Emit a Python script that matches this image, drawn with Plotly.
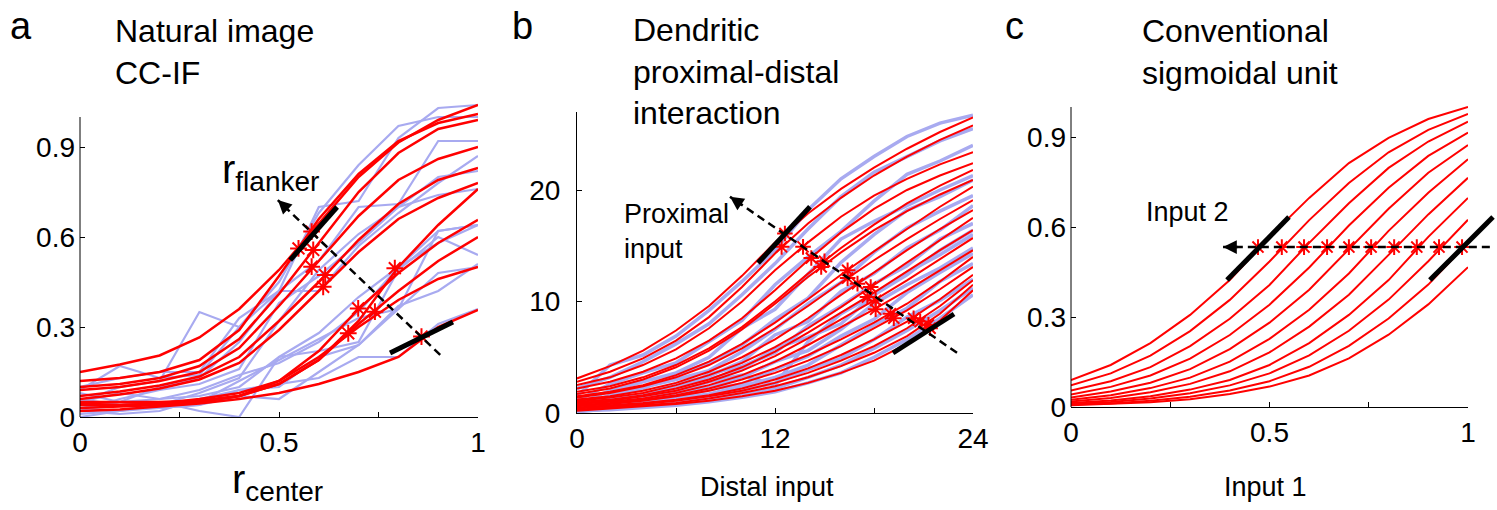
import plotly.graph_objects as go

W, H = 1497, 510
FONT = "Liberation Sans, Arial, Helvetica, sans-serif"
RED = "#ff0000"
BLUE = "rgb(168,170,240)"

# ---------------- Panel a : natural image CC-IF ----------------
a_x = [0.0, 0.1, 0.2, 0.3, 0.4, 0.5, 0.6, 0.7, 0.8, 0.9, 1.0]
a_red = [
    [0.15, 0.175, 0.205, 0.265, 0.36, 0.49, 0.645, 0.80, 0.915, 0.99, 1.04],
    [0.12, 0.13, 0.15, 0.19, 0.29, 0.47, 0.66, 0.81, 0.92, 0.98, 1.01],
    [0.10, 0.11, 0.13, 0.17, 0.26, 0.41, 0.58, 0.75, 0.88, 0.96, 0.99],
    [0.09, 0.10, 0.12, 0.15, 0.23, 0.37, 0.52, 0.67, 0.79, 0.86, 0.90],
    [0.07, 0.085, 0.105, 0.135, 0.20, 0.32, 0.45, 0.59, 0.71, 0.79, 0.83],
    [0.06, 0.075, 0.095, 0.125, 0.18, 0.29, 0.42, 0.55, 0.66, 0.73, 0.78],
    [0.05, 0.05, 0.05, 0.055, 0.07, 0.11, 0.19, 0.32, 0.50, 0.64, 0.76],
    [0.04, 0.04, 0.045, 0.05, 0.07, 0.12, 0.22, 0.36, 0.48, 0.58, 0.657],
    [0.03, 0.035, 0.04, 0.05, 0.07, 0.11, 0.19, 0.31, 0.42, 0.52, 0.60],
    [0.045, 0.04, 0.045, 0.06, 0.08, 0.12, 0.20, 0.30, 0.39, 0.46, 0.50],
    [0.02, 0.025, 0.035, 0.045, 0.06, 0.08, 0.11, 0.15, 0.20, 0.30, 0.357],
]
a_blue = [
    [0.09, 0.17, 0.13, 0.14, 0.30, 0.42, 0.70, 0.72, 0.93, 1.03, 1.04],
    [0.05, 0.10, 0.12, 0.35, 0.30, 0.45, 0.68, 0.84, 0.97, 1.00, 1.00],
    [0.10, 0.13, 0.15, 0.15, 0.33, 0.42, 0.52, 0.70, 0.71, 0.92, 0.92],
    [0.04, 0.05, 0.10, 0.13, 0.25, 0.42, 0.42, 0.57, 0.68, 0.78, 0.87],
    [0.02, 0.06, 0.09, 0.11, 0.16, 0.38, 0.47, 0.58, 0.70, 0.80, 0.82],
    [0.03, 0.02, 0.04, 0.08, 0.13, 0.32, 0.49, 0.61, 0.70, 0.74, 0.76],
    [0.06, 0.04, 0.03, 0.05, 0.12, 0.19, 0.26, 0.33, 0.36, 0.62, 0.64],
    [0.01, 0.02, 0.05, 0.02, 0.00, 0.20, 0.22, 0.25, 0.49, 0.60, 0.54],
    [0.03, 0.05, 0.03, 0.04, 0.07, 0.06, 0.15, 0.24, 0.37, 0.42, 0.51],
    [0.02, 0.01, 0.02, 0.06, 0.09, 0.10, 0.20, 0.24, 0.36, 0.48, 0.50],
    [0.00, 0.02, 0.03, 0.04, 0.09, 0.11, 0.13, 0.20, 0.20, 0.31, 0.36],
    [0.05, 0.08, 0.06, 0.09, 0.14, 0.18, 0.25, 0.35, 0.50, 0.62, 0.64],
    [0.08, 0.05, 0.06, 0.07, 0.10, 0.20, 0.28, 0.40, 0.50, 0.58, 0.64],
]
a_star_x = [0.582, 0.549, 0.586, 0.582, 0.616, 0.611, 0.791, 0.699, 0.741, 0.674, 0.858]
a_star_y = [0.618, 0.562, 0.557, 0.501, 0.473, 0.434, 0.496, 0.362, 0.351, 0.279, 0.268]
a_bars = [[(0.528, 0.523), (0.646, 0.700)], [(0.779, 0.213), (0.937, 0.317)]]
a_arrow = [(0.905, 0.207), (0.497, 0.723)]   # tail, head

# ---------------- Panel b : dendritic interaction ----------------
b_x = [0, 2, 4, 6, 8, 10, 12, 14, 16, 18, 20, 22, 24]
b_red = [
    [3.1, 4.2, 5.6, 7.4, 9.6, 12.3, 15.3, 17.9, 20.1, 22.0, 23.7, 25.2, 26.5],
    [2.8, 3.7, 4.9, 6.5, 8.6, 11.3, 14.3, 17.0, 19.3, 21.3, 23.0, 24.5, 25.8],
    [2.5, 3.2, 4.3, 5.7, 7.6, 10.0, 12.8, 15.3, 17.6, 19.5, 21.0, 22.3, 23.4],
    [2.2, 2.8, 3.7, 4.9, 6.5, 8.5, 11.0, 13.7, 16.2, 18.3, 20.0, 21.3, 22.4],
    [1.9, 2.4, 3.2, 4.3, 5.8, 7.7, 10.0, 12.5, 14.8, 16.9, 18.8, 20.4, 21.8],
    [1.7, 2.2, 3.0, 4.1, 5.6, 7.5, 9.8, 12.2, 14.4, 16.4, 18.1, 19.6, 20.9],
    [1.5, 1.9, 2.5, 3.4, 4.6, 6.2, 8.1, 10.2, 12.4, 14.5, 16.5, 18.5, 20.3],
    [1.4, 1.8, 2.4, 3.2, 4.3, 5.8, 7.6, 9.6, 11.7, 13.7, 15.6, 17.4, 19.1],
    [1.2, 1.5, 2.0, 2.7, 3.7, 5.0, 6.6, 8.5, 10.6, 12.6, 14.6, 16.5, 18.2],
    [1.1, 1.4, 1.8, 2.5, 3.4, 4.5, 5.9, 7.6, 9.5, 11.5, 13.5, 15.5, 17.5],
    [1.0, 1.2, 1.6, 2.2, 3.0, 4.1, 5.5, 7.2, 9.0, 10.8, 12.7, 14.6, 16.4],
    [0.9, 1.1, 1.5, 2.0, 2.8, 3.8, 5.1, 6.7, 8.4, 10.1, 11.9, 13.8, 15.7],
    [0.8, 1.0, 1.3, 1.8, 2.5, 3.4, 4.6, 6.1, 7.7, 9.3, 11.0, 12.8, 14.6],
    [0.7, 0.9, 1.2, 1.6, 2.2, 3.0, 4.0, 5.2, 6.6, 8.1, 9.8, 11.8, 14.0],
    [0.6, 0.8, 1.1, 1.5, 2.0, 2.7, 3.6, 4.7, 6.0, 7.6, 9.2, 11.1, 13.1],
    [0.5, 0.7, 0.9, 1.2, 1.6, 2.2, 3.0, 4.0, 5.2, 6.6, 8.2, 10.2, 12.4],
    [0.4, 0.6, 0.8, 1.1, 1.5, 2.0, 2.7, 3.6, 4.7, 6.0, 7.6, 9.6, 11.9],
    [0.3, 0.5, 0.7, 0.9, 1.3, 1.8, 2.4, 3.2, 4.2, 5.4, 6.9, 8.9, 11.5],
    [0.2, 0.4, 0.6, 0.8, 1.1, 1.5, 2.0, 2.7, 3.6, 4.7, 6.2, 8.3, 11.0],
]
b_blue = [
    [1.5, 4.3, 5.2, 6.9, 9.2, 11.8, 14.6, 18.2, 21.0, 23.0, 24.8, 26.0, 26.7],
    [2.2, 3.2, 4.6, 6.2, 8.0, 10.6, 13.4, 16.5, 19.4, 21.6, 23.0, 24.4, 25.5],
    [1.1, 2.6, 3.6, 4.5, 6.4, 8.3, 11.5, 14.0, 16.3, 19.0, 21.4, 22.6, 24.0],
    [0.8, 2.0, 2.8, 3.6, 5.0, 7.6, 9.3, 12.4, 15.6, 17.2, 18.6, 20.0, 21.3],
    [0.6, 1.6, 2.2, 3.4, 4.5, 6.1, 8.4, 10.3, 13.5, 16.0, 18.2, 19.4, 20.9],
    [0.9, 1.3, 2.3, 3.0, 3.8, 5.5, 7.5, 9.8, 11.7, 14.4, 16.6, 18.1, 19.5],
    [0.5, 1.0, 1.7, 2.6, 3.3, 4.6, 7.0, 8.2, 10.9, 12.5, 14.8, 16.4, 18.6],
    [0.3, 0.9, 1.4, 2.0, 3.5, 4.2, 5.4, 7.8, 9.6, 11.6, 13.2, 15.6, 17.0],
    [0.7, 1.1, 1.5, 1.9, 2.8, 3.4, 2.5, 6.4, 8.9, 10.6, 12.6, 14.2, 16.0],
    [0.4, 0.8, 1.2, 1.8, 2.4, 3.2, 4.6, 5.6, 7.5, 9.8, 11.5, 13.0, 14.8],
    [0.2, 0.7, 1.0, 1.4, 2.1, 2.6, 3.9, 5.1, 6.9, 8.4, 10.8, 12.6, 14.3],
    [0.6, 0.7, 0.9, 1.3, 1.7, 2.4, 3.2, 4.3, 6.1, 7.9, 9.4, 11.8, 13.4],
    [0.3, 0.5, 0.8, 1.0, 1.5, 2.0, 2.7, 3.9, 4.9, 6.6, 8.6, 10.1, 12.0],
    [0.1, 0.4, 0.6, 0.8, 1.2, 1.7, 2.2, 3.2, 4.3, 5.8, 7.4, 9.2, 11.2],
    [0.2, 0.3, 0.5, 0.7, 1.0, 1.4, 1.9, 2.7, 3.6, 5.0, 6.6, 8.5, 10.6],
    [0.5, 1.2, 1.6, 2.4, 3.0, 3.9, 5.8, 6.8, 8.0, 10.6, 12.4, 14.6, 16.4],
]
b_star_x = [12.6, 12.4, 13.7, 14.2, 15.0, 14.8, 16.4, 16.4, 17.0, 17.8, 17.6, 18.1, 18.1, 19.0, 19.2, 20.4, 20.8, 21.3, 21.4]
b_star_y = [16.1, 14.9, 14.9, 13.9, 13.6, 13.1, 12.8, 12.1, 11.6, 11.3, 10.4, 10.1, 9.3, 8.9, 8.5, 8.5, 8.2, 7.9, 7.6]
b_bars = [[(10.97, 13.45), (14.12, 18.5)], [(19.15, 5.38), (22.85, 8.88)]]
b_arrow = [(23.03, 5.4), (9.27, 19.4)]

# ---------------- Panel c : conventional sigmoidal unit ----------------
c_x = [0.0, 0.1, 0.2, 0.3, 0.4, 0.5, 0.6, 0.7, 0.8, 0.9, 1.0]
c_red = [
    [0.090, 0.140, 0.213, 0.307, 0.423, 0.567, 0.697, 0.813, 0.897, 0.960, 1.000],
    [0.072, 0.112, 0.171, 0.253, 0.357, 0.485, 0.623, 0.747, 0.849, 0.924, 0.977],
    [0.055, 0.086, 0.133, 0.203, 0.294, 0.407, 0.547, 0.679, 0.797, 0.885, 0.951],
    [0.042, 0.067, 0.105, 0.161, 0.240, 0.341, 0.465, 0.605, 0.731, 0.837, 0.915],
    [0.032, 0.052, 0.081, 0.126, 0.193, 0.281, 0.391, 0.527, 0.661, 0.781, 0.873],
    [0.024, 0.039, 0.063, 0.098, 0.151, 0.227, 0.324, 0.445, 0.587, 0.714, 0.826],
    [0.018, 0.030, 0.049, 0.077, 0.119, 0.182, 0.268, 0.374, 0.507, 0.642, 0.764],
    [0.013, 0.022, 0.036, 0.058, 0.090, 0.140, 0.213, 0.307, 0.423, 0.567, 0.697],
    [0.010, 0.017, 0.028, 0.046, 0.072, 0.112, 0.172, 0.254, 0.358, 0.486, 0.624],
    [0.008, 0.012, 0.021, 0.034, 0.055, 0.086, 0.134, 0.204, 0.295, 0.408, 0.548],
    [0.006, 0.010, 0.016, 0.026, 0.043, 0.068, 0.105, 0.162, 0.241, 0.342, 0.466],
]
c_star_x = [0.471, 0.531, 0.587, 0.645, 0.700, 0.756, 0.814, 0.871, 0.927, 0.985]
c_star_y = [0.533] * 10
c_bars = [[(0.393, 0.423), (0.549, 0.633)], [(0.904, 0.423), (1.063, 0.633)]]
c_arrow = [(1.055, 0.533), (0.383, 0.533)]

# ---------------- layout geometry ----------------
def px_dom(x0, x1):
    return [x0 / W, x1 / W]

def py_dom(ybot, ytop):
    return [1 - ybot / H, 1 - ytop / H]

RANGES = {
    "a": ([0, 1], [0, 1.06]),
    "b": ([0, 24], [0, 27]),
    "c": ([0, 1], [0, 1.01]),
}
AX = {"a": ("x", "y"), "b": ("x2", "y2"), "c": ("x3", "y3")}

fig = go.Figure()

def add_lines(panel, xs, rows, color, width):
    xa, ya = AX[panel]
    for row in rows:
        fig.add_trace(go.Scatter(x=xs, y=row, mode="lines", xaxis=xa, yaxis=ya,
                                 line=dict(color=color, width=width),
                                 hoverinfo="skip", showlegend=False))

def add_stars(panel, xs, ys, size):
    xa, ya = AX[panel]
    fig.add_trace(go.Scatter(x=xs, y=ys, mode="markers", xaxis=xa, yaxis=ya,
                             marker=dict(symbol="asterisk-open", size=size, color=RED,
                                         line=dict(color=RED, width=2)),
                             cliponaxis=False, hoverinfo="skip", showlegend=False))

def frac(panel, x, y):
    (rx, ry) = RANGES[panel]
    return (x - rx[0]) / (rx[1] - rx[0]), (y - ry[0]) / (ry[1] - ry[0])

def add_seg(panel, p0, p1, width, dash="solid"):
    xa, ya = AX[panel]
    f0 = frac(panel, *p0)
    f1 = frac(panel, *p1)
    fig.add_shape(type="line", xref=xa + " domain", yref=ya + " domain",
                  x0=f0[0], y0=f0[1], x1=f1[0], y1=f1[1], layer="above",
                  line=dict(color="black", width=width, dash=dash))

def add_arrow(panel, tail, head):
    add_seg(panel, tail, head, 2.5, "8px,5px")
    xa, ya = AX[panel]
    t = 0.06
    sx = head[0] + t * (tail[0] - head[0])
    sy = head[1] + t * (tail[1] - head[1])
    fig.add_annotation(x=head[0], y=head[1], ax=sx, ay=sy, xref=xa, yref=ya,
                       axref=xa, ayref=ya, text="", showarrow=True,
                       arrowhead=2, arrowsize=1.1, arrowwidth=2.5, arrowcolor="black")

# panel a
add_lines("a", a_x, a_blue, BLUE, 2.2)
add_lines("a", a_x, a_red, RED, 2.5)
add_stars("a", a_star_x, a_star_y, 14)
# panel b
add_lines("b", b_x, b_blue, BLUE, 3.5)
add_lines("b", b_x, b_red, RED, 2)
add_stars("b", b_star_x, b_star_y, 13)
# panel c
add_lines("c", c_x, c_red, RED, 2)

for bar in a_bars:
    add_seg("a", bar[0], bar[1], 5)
for bar in b_bars:
    add_seg("b", bar[0], bar[1], 5)
for bar in c_bars:
    add_seg("c", bar[0], bar[1], 5)
add_arrow("a", *a_arrow)
add_arrow("b", *b_arrow)
add_arrow("c", *c_arrow)
add_stars("c", c_star_x, c_star_y, 13)

for p in ("a", "c"):
    xa, ya = AX[p]
    fig.add_shape(type="line", xref=xa + " domain", yref=ya + " domain",
                  x0=0, x1=0, y0=0, y1=frac(p, 0, 1.0)[1],
                  line=dict(color="black", width=1))

tickfont = dict(family=FONT, size=28, color="black")
common = dict(showgrid=False, zeroline=False, ticks="inside", ticklen=5,
              tickwidth=1, tickcolor="black", linecolor="black", linewidth=1,
              tickfont=tickfont, fixedrange=True, automargin=False)

a_xticks = [0, 0.25, 0.5, 0.75, 1]
a_xtext = ["0", "", "0.5", "", "1"]
b_xticks = [0, 6, 12, 18, 24]
b_xtext = ["0", "", "12", "", "24"]
y01_ticks = [0, 0.3, 0.6, 0.9]
y01_text = ["0", "0.3", "0.6", "0.9"]
b_yticks = [0, 10, 20]

fig.update_layout(
    width=W, height=H, margin=dict(l=0, r=0, t=0, b=0, pad=0, autoexpand=False),
    paper_bgcolor="white", plot_bgcolor="white", showlegend=False,
    xaxis=dict(common, domain=px_dom(80, 478), range=RANGES["a"][0], anchor="y",
               showline=True, tickvals=a_xticks, ticktext=a_xtext, ticklabelstandoff=0),
    yaxis=dict(common, domain=py_dom(417, 417 - 318), range=RANGES["a"][1], anchor="x",
               showline=False, tickvals=y01_ticks, ticktext=y01_text, ticklabelstandoff=4),
    xaxis2=dict(common, domain=px_dom(577, 973), range=RANGES["b"][0], anchor="y2",
                showline=True, tickvals=b_xticks, ticktext=b_xtext, ticklabelstandoff=0),
    yaxis2=dict(common, domain=py_dom(413, 413 - 27 * 11.15), range=RANGES["b"][1], anchor="x2",
                showline=True, tickvals=b_yticks, ticklabelstandoff=10),
    xaxis3=dict(common, domain=px_dom(1071, 1468), range=RANGES["c"][0], anchor="y3",
                showline=True, tickvals=a_xticks, ticktext=a_xtext, ticklabelstandoff=0),
    yaxis3=dict(common, domain=py_dom(407, 407 - 303), range=RANGES["c"][1], anchor="x3",
                showline=False, tickvals=y01_ticks, ticktext=y01_text, ticklabelstandoff=4),
)

def txt(text, x, y, size, xanchor="left", yanchor="middle"):
    fig.add_annotation(text=text, x=x / W, y=1 - y / H, xref="paper", yref="paper",
                       xanchor=xanchor, yanchor=yanchor, showarrow=False,
                       font=dict(family=FONT, size=size, color="black"), align="left")

txt("a", 8, 26, 38)
txt("b", 510, 26, 38)
txt("c", 1003, 26, 38)
txt("Natural image<br>CC-IF", 113, 52, 32)
txt("Dendritic<br>proximal-distal<br>interaction", 631, 72, 32)
txt("Conventional<br>sigmoidal unit", 1140, 52, 32)
txt("r<sub>flanker</sub>", 220, 172, 40)
txt("Proximal<br>input", 622, 232, 27)
txt("Input 2", 1144, 212, 27)
txt("r<sub>center</sub>", 230, 482, 40)
txt("Distal input", 767, 487, 27, xanchor="center")
txt("Input 1", 1265, 487, 27, xanchor="center")

fig.write_html("out.html", config={"displayModeBar": False, "staticPlot": True},
               post_script="document.body.style.margin='0px';document.body.style.overflow='hidden';")
